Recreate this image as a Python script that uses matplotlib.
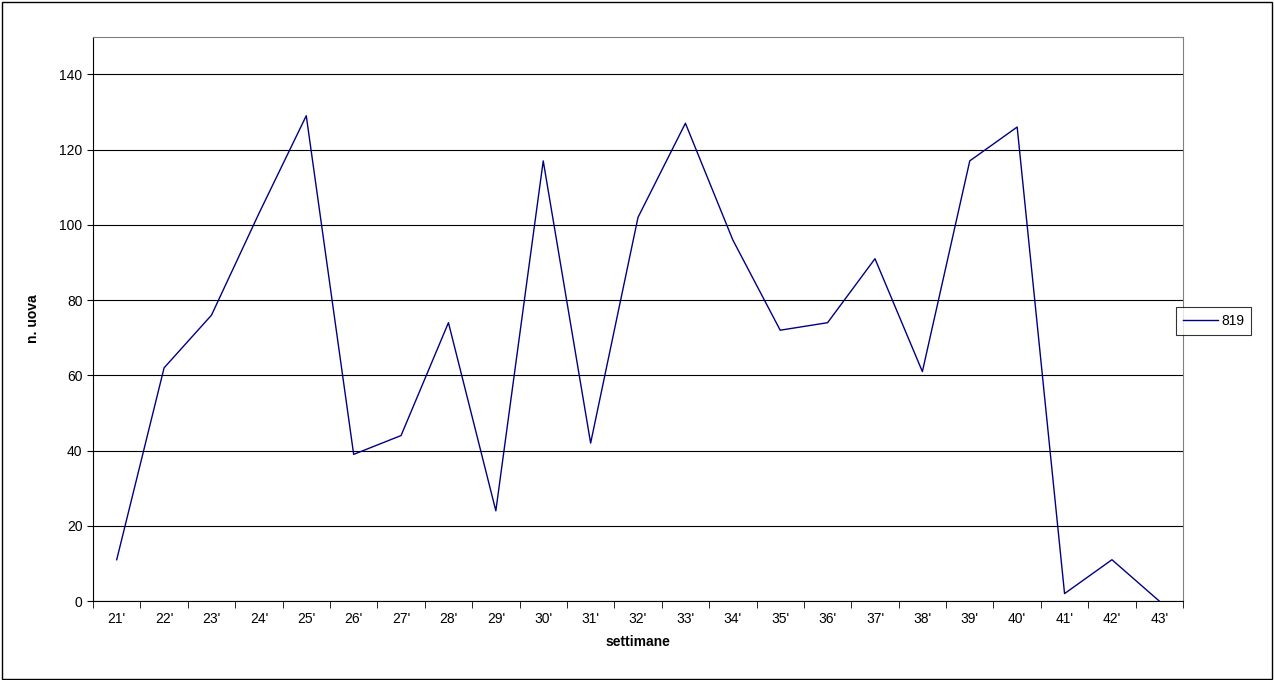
import matplotlib
matplotlib.use("Agg")
import matplotlib.pyplot as plt
from matplotlib.patches import Rectangle
import numpy as np

plt.rcParams['font.family'] = ['Liberation Sans', 'DejaVu Sans']

weeks = [f"{w}'" for w in range(21, 44)]
values = [11, 62, 76, 103, 129, 39, 44, 74, 24, 117, 42, 102, 127, 96, 72, 74, 91, 61, 117, 126, 2, 11, 0]
series_name = "819"

fig = plt.figure(figsize=(12.74, 6.8), dpi=100)
fig.patches.append(Rectangle((0.0015, 0.002), 0.997, 0.995, transform=fig.transFigure,
                             fill=False, edgecolor="black", linewidth=1))
ax = fig.add_axes([0.073, 0.116, 0.8556, 0.83])
x = np.arange(len(weeks))
ax.plot(x, values, color="#000080", linewidth=1, label=series_name)
ax.set_xlim(-0.5, len(weeks) - 0.5)
ax.set_ylim(0, 150)
ax.set_yticks(range(0, 141, 20))
ax.yaxis.grid(True, color="black", linewidth=0.8)
ax.set_axisbelow(True)
ax.set_xticks(x)
ax.set_xticklabels(weeks, fontsize=10)
ax.tick_params(axis="x", which="major", length=0, pad=8)
ax.set_xticks(np.arange(-0.5, len(weeks), 1), minor=True)
ax.tick_params(axis="x", which="minor", length=5)
ax.tick_params(axis="y", labelsize=10, length=4)
for s in ["top", "right"]:
    ax.spines[s].set_color("#808080")
ax.set_xlabel("settimane", fontsize=10, fontweight="bold", labelpad=6)
ax.set_ylabel("n. uova", fontsize=10, fontweight="bold", labelpad=14)
leg = fig.legend(loc="center left", bbox_to_anchor=(0.918, 0.5275), fontsize=10,
                 frameon=True, fancybox=False, edgecolor="black", handlelength=2.5,
                 borderpad=0.5, handletextpad=0.2)
leg.get_frame().set_linewidth(0.8)
fig.savefig("out.png", dpi=100)
